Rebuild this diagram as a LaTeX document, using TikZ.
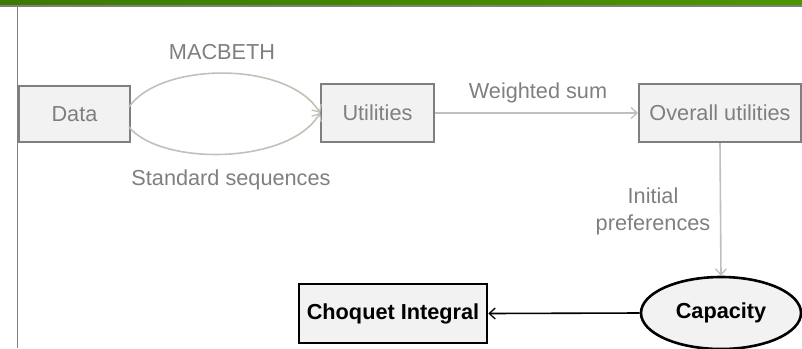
\documentclass[tikz,border=0pt]{standalone}
\usepackage{fontspec}
\setmainfont{Liberation Sans}
\usetikzlibrary{arrows.meta,shapes.geometric,calc}

\definecolor{bargreenL}{RGB}{60,122,0}
\definecolor{bargreenR}{RGB}{74,150,0}
\definecolor{rulegray}{RGB}{128,128,128}
\definecolor{boxfill}{RGB}{242,242,242}
\definecolor{boxedge}{RGB}{127,127,127}
\definecolor{txtgray}{RGB}{127,127,127}
\definecolor{linkgray}{RGB}{191,191,191}
\definecolor{arcgray}{RGB}{196,192,184}

\tikzset{
  every node/.style={font=\fontsize{21.7bp}{27bp}\selectfont},
  graybox/.style={draw=boxedge, line width=2bp, fill=boxfill, text=txtgray,
    rectangle, inner sep=0pt},
  blackbox/.style={draw=black, line width=2.6bp, fill=boxfill, text=black,
    rectangle, inner sep=0pt, font=\fontsize{21.7bp}{27bp}\selectfont\bfseries},
  blackoval/.style={draw=black, line width=2.6bp, fill=boxfill, text=black,
    ellipse, inner sep=0pt, font=\fontsize{21.7bp}{27bp}\selectfont\bfseries},
  lbl/.style={text=txtgray, inner sep=0pt},
  barb/.style={-{Straight Barb[length=6bp,width=11bp,line width=1.3bp]}},
  graylink/.style={barb, draw=linkgray, line width=1.6bp},
  arclink/.style={barb, draw=arcgray, line width=1.6bp},
  blacklink/.style={barb, draw=black, line width=1.6bp},
}

\begin{document}
\begin{tikzpicture}[x=1bp, y=-1bp]
  \useasboundingbox (0,0) rectangle (802,348);

  % header band and frame rules
  \shade[left color=bargreenL, right color=bargreenR] (0,0) rectangle (802,5);
  \fill[rulegray] (0,5) rectangle (802,6.6);
  \fill[rulegray] (16.7,5) rectangle (18.4,348);

  % boxes
  \node[graybox, minimum width=111bp, minimum height=56bp] (Data) at (74.5,114) {Data};
  \node[graybox, minimum width=113bp, minimum height=58bp] (Utilities) at (377.5,113) {Utilities};
  \node[graybox, minimum width=162bp, minimum height=58bp] (Overall) at (720,113) {Overall utilities};
  \node[blackbox, minimum width=188bp, minimum height=59bp] (Choquet) at (393,313.5) {Choquet Integral};
  \node[blackoval, minimum width=160bp, minimum height=72bp] (Capacity) at (721,313) {Capacity};

  % connectors
  \draw[arclink] ($(Data.east)+(-2,-7)$) .. controls +(32,-46) and +(-31,-52) .. (Utilities.west);
  \draw[arclink] ($(Data.east)+(-2,13)$) .. controls +(32,39) and +(-31,52) .. (Utilities.west);
  \draw[graylink] (Utilities.east) -- (Overall.west);
  \draw[graylink] (Overall.south) -- (Capacity.north);
  \draw[blacklink] (Capacity.west) -- (Choquet.east);

  % connector labels
  \node[lbl] (lMac) at (222,52) {MACBETH};
  \node[lbl] (lStd) at (231,180) {Standard sequences};
  \node[lbl] (lWs) at (538,93) {Weighted sum};
  \node[lbl, align=center] (lInit) at (653,211) {Initial\\preferences};
\end{tikzpicture}
\end{document}
